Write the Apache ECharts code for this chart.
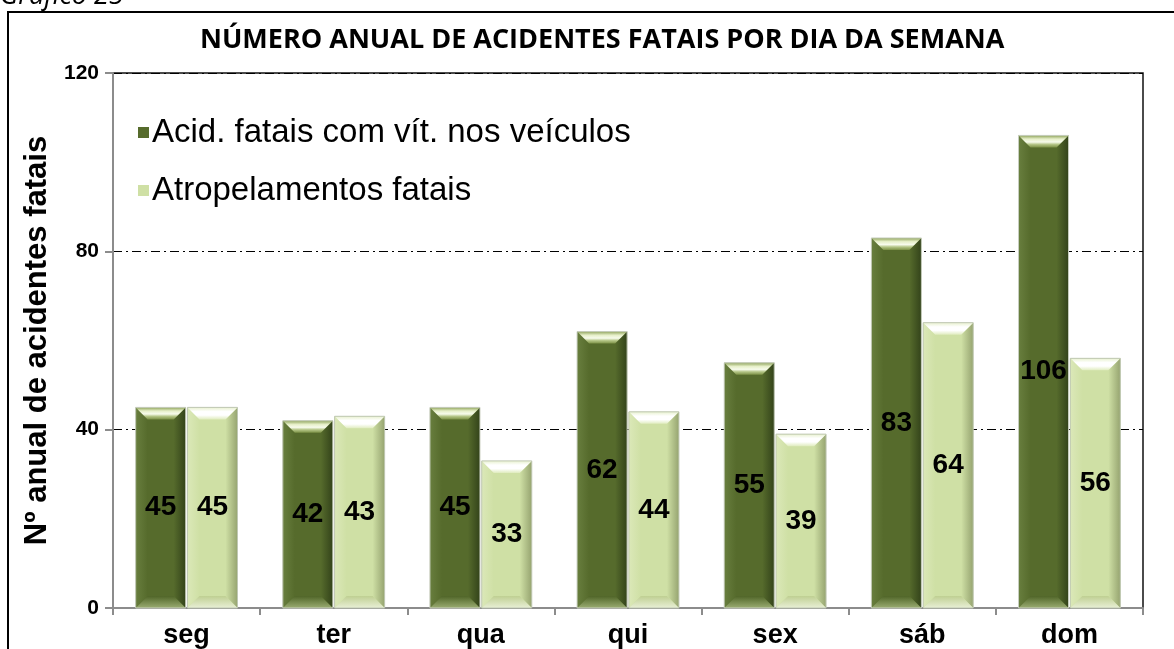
<!DOCTYPE html>
<html>
<head>
<meta charset="utf-8">
<style>
  html, body { margin: 0; padding: 0; background: #fff; }
  #chart { width: 1174px; height: 649px; }
</style>
<script src="https://cdn.jsdelivr.net/npm/echarts@6/dist/echarts.min.js"></script>
</head>
<body>
<div id="chart"></div>
<script>
// Dias da semana e número anual de acidentes fatais
const categories = ['seg', 'ter', 'qua', 'qui', 'sex', 'sáb', 'dom'];
const veiculos = [45, 42, 45, 62, 55, 83, 106];
const atropelamentos = [45, 43, 33, 44, 39, 64, 56];
const yMin = 0, yMax = 120, yStep = 40;
const seriesNames = ['Acid. fatais com vít. nos veículos', 'Atropelamentos fatais'];

// Palette for the bevelled bars: body, top bevel (gradient stops), left, right, bottom
const palettes = [
  {
    body: '#566b2c', stroke: '#c9cfc0',
    top: [[0, '#8ea35a'], [0.3, '#e6efc8'], [0.55, '#f7fbec'], [0.75, '#b4c586'], [1, '#7c9146']],
    left: '#687e3e', right: '#33431a', bottom: [[0, '#506528'], [1, '#9aac72']]
  },
  {
    body: '#cfe0a5', stroke: '#bfc7b3',
    top: [[0, '#e8f1cf'], [0.35, '#ffffff'], [0.65, '#ffffff'], [1, '#e0ecbf']],
    left: '#dbe8b8', right: '#96a470', bottom: [[0, '#bfcf92'], [1, '#e8efd5']]
  }
];

function bevelBar(seriesIdx) {
  return function (params, api) {
    const idx = api.value(0);
    const val = api.value(1);
    const base = api.coord([idx, 0]);
    const top = api.coord([idx, val]);
    const band = api.size([1, 0])[0];
    const w = band * 0.34;
    const gap = band * 0.012;
    const x0 = seriesIdx === 0 ? base[0] - gap / 2 - w : base[0] + gap / 2;
    const x1 = x0 + w;
    const yT = top[1], yB = base[1];
    const h = yB - yT;
    const b = Math.min(12, h / 2);
    const p = palettes[seriesIdx];
    const grad = (stops, vertical) => new echarts.graphic.LinearGradient(
      0, 0, vertical ? 0 : 1, vertical ? 1 : 0,
      stops.map(s => ({ offset: s[0], color: s[1] }))
    );
    return {
      type: 'group',
      children: [
        { type: 'rect', shape: { x: x0, y: yT, width: w, height: h },
          style: { fill: p.body } },
        { type: 'polygon', shape: { points: [[x0, yT], [x0 + b, yT + b], [x0 + b, yB - b], [x0, yB]] },
          style: { fill: grad([[0, p.left], [1, p.body]], false) } },
        { type: 'polygon', shape: { points: [[x1, yT], [x1 - b, yT + b], [x1 - b, yB - b], [x1, yB]] },
          style: { fill: grad([[0, p.body], [1, p.right]], false) } },
        { type: 'polygon', shape: { points: [[x0, yT], [x1, yT], [x1 - b, yT + b], [x0 + b, yT + b]] },
          style: { fill: grad(p.top, true) } },
        { type: 'polygon', shape: { points: [[x0 + b, yB - b], [x1 - b, yB - b], [x1, yB], [x0, yB]] },
          style: { fill: grad(p.bottom, true) } },
        { type: 'rect', shape: { x: x0, y: yT, width: w, height: h },
          style: { fill: 'none', stroke: p.stroke, lineWidth: 1 } },
        { type: 'text', x: (x0 + x1) / 2, y: (yT + yB) / 2,
          style: { text: String(val), fill: '#000', font: 'bold 28px "Liberation Sans", Arial, sans-serif',
                   align: 'center', verticalAlign: 'middle' } }
      ]
    };
  };
}

const chart = echarts.init(document.getElementById('chart'), null, { renderer: 'canvas' });
chart.setOption({
  animation: false,
  backgroundColor: '#fff',
  title: {
    text: 'NÚMERO ANUAL DE ACIDENTES FATAIS POR DIA DA SEMANA',
    left: 195, top: 22,
    textStyle: { fontFamily: '"Open Sans", sans-serif', fontWeight: 'bold', fontSize: 27, color: '#000' }
  },
  graphic: [
    { type: 'rect', shape: { x: 8, y: 12, width: 1200, height: 700 },
      style: { fill: 'none', stroke: '#000', lineWidth: 2 }, z: 10 },
    { type: 'text', left: 0, top: -17,
      style: { text: 'Gráfico 25', fill: '#000', font: 'italic 27px "Open Sans", sans-serif' } }
  ],
  legend: {
    orient: 'vertical', left: 133, top: 109,
    itemWidth: 11, itemHeight: 11, itemGap: 21, icon: 'rect',
    textStyle: { fontFamily: '"Liberation Sans", Arial, sans-serif', fontSize: 33, color: '#000', lineHeight: 37, padding: [0, 0, 0, -2] },
    data: [
      { name: seriesNames[0], itemStyle: { color: palettes[0].body } },
      { name: seriesNames[1], itemStyle: { color: palettes[1].body } }
    ]
  },
  grid: { left: 113, right: 31, top: 73, bottom: 40, show: true, borderColor: '#111', borderWidth: 1.5 },
  xAxis: {
    type: 'category', data: categories,
    axisLine: { lineStyle: { color: '#8c8c8c', width: 2 } },
    axisTick: { show: true, length: 7, lineStyle: { color: '#8c8c8c', width: 2 } },
    axisLabel: { margin: 14, color: '#000', fontFamily: '"Liberation Sans", Arial, sans-serif', fontWeight: 'bold', fontSize: 27 }
  },
  yAxis: {
    type: 'value', min: yMin, max: yMax, interval: yStep,
    name: 'Nº anual de acidentes fatais', nameLocation: 'middle', nameGap: 55,
    nameTextStyle: { color: '#000', fontFamily: '"Liberation Sans", Arial, sans-serif', fontWeight: 'bold', fontSize: 31 },
    axisLine: { show: true, lineStyle: { color: '#8c8c8c', width: 2 } },
    axisTick: { show: true, length: 8, lineStyle: { color: '#8c8c8c', width: 2 } },
    axisLabel: { margin: 14, color: '#000', fontFamily: '"Liberation Sans", Arial, sans-serif', fontWeight: 'bold', fontSize: 21 },
    splitLine: { show: true, lineStyle: { color: '#000', width: 1.2, type: [9, 4, 2, 4] } }
  },
  series: [
    { name: seriesNames[0], type: 'custom', renderItem: bevelBar(0),
      itemStyle: { color: palettes[0].body },
      data: veiculos.map((v, i) => [i, v]), encode: { x: 0, y: 1 }, z: 3 },
    { name: seriesNames[1], type: 'custom', renderItem: bevelBar(1),
      itemStyle: { color: palettes[1].body },
      data: atropelamentos.map((v, i) => [i, v]), encode: { x: 0, y: 1 }, z: 3 }
  ]
});
</script>
</body>
</html>
